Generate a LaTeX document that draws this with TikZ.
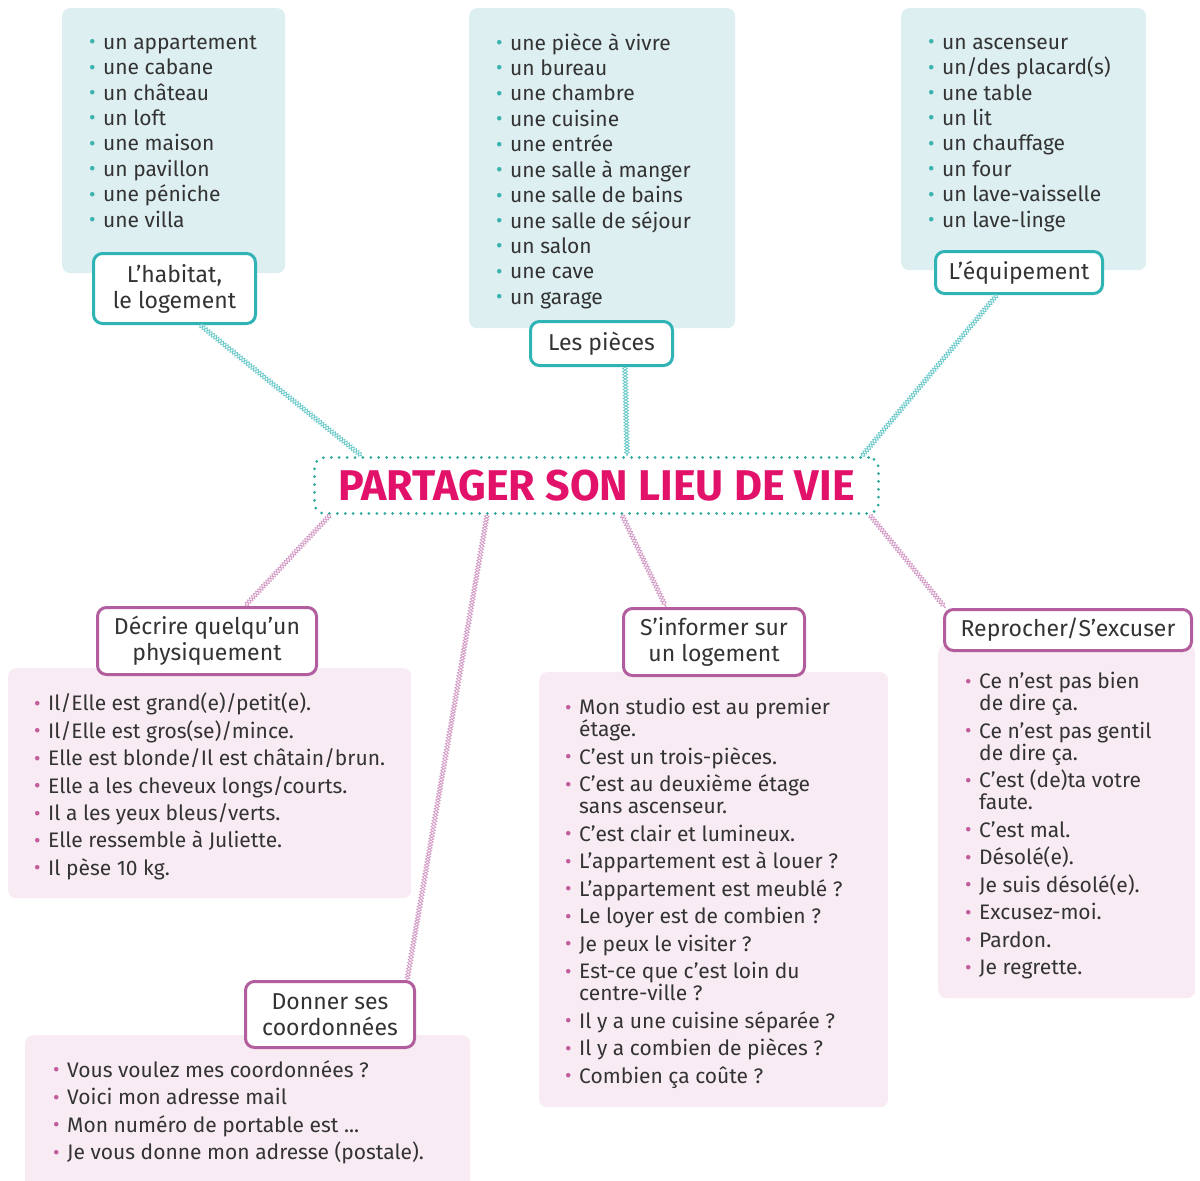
\documentclass[tikz,border=0pt]{standalone}
\usepackage{fontspec}
\setmainfont{Fira Sans}
\usetikzlibrary{calc,decorations.pathmorphing}
\definecolor{tealfill}{HTML}{DDEFF1}
\definecolor{tealline}{HTML}{2FB3B5}
\definecolor{tealbul}{HTML}{3BB3AE}
\definecolor{tealchaincol}{HTML}{6CCACA}
\definecolor{tealdot}{HTML}{2AA89A}
\definecolor{pinkfill}{HTML}{F8EBF4}
\definecolor{purpleline}{HTML}{B25D9E}
\definecolor{pinkbul}{HTML}{C35C9C}
\definecolor{pinkchaincol}{HTML}{D49BC6}
\definecolor{titlecol}{HTML}{E2126B}
\definecolor{textcol}{HTML}{333333}
\newcommand{\tbul}{\rule{0pt}{16pt}\makebox[14pt][l]{\textcolor{tealbul}{\raisebox{0.5pt}{\scalebox{0.95}{\textbullet}}}}}
\newcommand{\pbul}{\rule{0pt}{16pt}\makebox[14pt][l]{\textcolor{pinkbul}{\raisebox{0.5pt}{\scalebox{0.95}{\textbullet}}}}}
\newcommand{\wrapind}{\hspace*{14pt}}
\begin{document}
\begin{tikzpicture}[x=1pt,y=-1pt,
  tbox/.style={fill=tealfill, draw=none, rounded corners=8pt, anchor=north west, inner sep=0pt},
  pbox/.style={fill=pinkfill, draw=none, rounded corners=8pt, anchor=north west, inner sep=0pt},
  tlab/.style={draw=tealline, line width=3pt, fill=white, rounded corners=9pt, inner sep=0pt, align=center, text=textcol, font=\fontsize{23}{26}\selectfont},
  plab/.style={tlab, draw=purpleline},
  lst/.style={anchor=north west, inner sep=0pt, align=left, text=textcol},
  ctrbox/.style={draw=tealdot, line width=3pt, dash pattern=on 0pt off 7.9pt, line cap=round, rounded corners=10pt, minimum width=564pt, minimum height=56pt, inner sep=0pt, text=titlecol},
  tchain/.style={draw=none,
    postaction={draw=tealchaincol, line width=0.8pt, decorate, decoration={zigzag, amplitude=2.4pt, segment length=6pt}},
    postaction={draw=tealchaincol, line width=0.8pt, decorate, decoration={zigzag, amplitude=2.4pt, segment length=6pt, mirror}}},
  pchain/.style={draw=none,
    postaction={draw=pinkchaincol, line width=0.8pt, decorate, decoration={zigzag, amplitude=2.4pt, segment length=6pt}},
    postaction={draw=pinkchaincol, line width=0.8pt, decorate, decoration={zigzag, amplitude=2.4pt, segment length=6pt, mirror}}}]
\useasboundingbox (0,0) rectangle (1200,1181);
\fill[white] (0,0) rectangle (1200,1181);

% background boxes
\node[tbox, minimum width=223pt, minimum height=265pt] (boxA) at (62,8) {};
\node[tbox, minimum width=266pt, minimum height=320pt] (boxB) at (469,8) {};
\node[tbox, minimum width=245pt, minimum height=262pt] (boxC) at (901,8) {};
\node[pbox, minimum width=403pt, minimum height=230pt] (boxD) at (8,668) {};
\node[pbox, minimum width=349pt, minimum height=435pt] (boxS) at (539,672) {};
\node[pbox, minimum width=257pt, minimum height=353pt] (boxR) at (938,645) {};
\node[pbox, minimum width=445pt, minimum height=160pt] (boxG) at (25,1035) {};

% lists
\node[lst, font=\fontsize{21}{25.43}\selectfont] (lstA) at (89,33) {%
\tbul un appartement\\
\tbul une cabane\\
\tbul un château\\
\tbul un loft\\
\tbul une maison\\
\tbul un pavillon\\
\tbul une péniche\\
\tbul une villa};
\node[lst, font=\fontsize{21}{25.43}\selectfont] (lstB) at (496,33) {%
\tbul une pièce à vivre\\
\tbul un bureau\\
\tbul une chambre\\
\tbul une cuisine\\
\tbul une entrée\\
\tbul une salle à manger\\
\tbul une salle de bains\\
\tbul une salle de séjour\\
\tbul un salon\\
\tbul une cave\\
\tbul un garage};
\node[lst, font=\fontsize{21}{25.43}\selectfont] (lstC) at (928,33) {%
\tbul un ascenseur\\
\tbul un/des placard(s)\\
\tbul une table\\
\tbul un lit\\
\tbul un chauffage\\
\tbul un four\\
\tbul un lave-vaisselle\\
\tbul un lave-linge};
\node[lst, font=\fontsize{21}{27.4}\selectfont] (lstD) at (34,693) {%
\pbul Il/Elle est grand(e)/petit(e).\\
\pbul Il/Elle est gros(se)/mince.\\
\pbul Elle est blonde/Il est châtain/brun.\\
\pbul Elle a les cheveux longs/courts.\\
\pbul Il a les yeux bleus/verts.\\
\pbul Elle ressemble à Juliette.\\
\pbul Il pèse 10 kg.};
\node[lst, font=\fontsize{21}{27.5}\selectfont] (lstS) at (565,698) {%
\pbul Mon studio est au premier\\[-5.5pt]
\wrapind étage.\\
\pbul C’est un trois-pièces.\\
\pbul C’est au deuxième étage\\[-5.5pt]
\wrapind sans ascenseur.\\
\pbul C’est clair et lumineux.\\
\pbul L’appartement est à louer ?\\
\pbul L’appartement est meublé ?\\
\pbul Le loyer est de combien ?\\
\pbul Je peux le visiter ?\\
\pbul Est-ce que c’est loin du\\[-5.5pt]
\wrapind centre-ville ?\\
\pbul Il y a une cuisine séparée ?\\
\pbul Il y a combien de pièces ?\\
\pbul Combien ça coûte ?};
\node[lst, font=\fontsize{21}{27.5}\selectfont] (lstR) at (965,672) {%
\pbul Ce n’est pas bien\\[-5.5pt]
\wrapind de dire ça.\\
\pbul Ce n’est pas gentil\\[-5.5pt]
\wrapind de dire ça.\\
\pbul C’est (de)ta votre\\[-5.5pt]
\wrapind faute.\\
\pbul C’est mal.\\
\pbul Désolé(e).\\
\pbul Je suis désolé(e).\\
\pbul Excusez-moi.\\
\pbul Pardon.\\
\pbul Je regrette.};
\node[lst, font=\fontsize{21}{27.6}\selectfont] (lstG) at (53,1060) {%
\pbul Vous voulez mes coordonnées ?\\
\pbul Voici mon adresse mail\\
\pbul Mon numéro de portable est ...\\
\pbul Je vous donne mon adresse (postale).};

% labels
\node[tlab, minimum width=162pt, minimum height=70pt] (labA) at (174.5,288.5) {L’habitat,\\le logement};
\node[tlab, minimum width=142pt, minimum height=44pt] (labB) at (601.5,343.5) {Les pièces};
\node[tlab, minimum width=167pt, minimum height=42pt] (labC) at (1019,272.5) {L’équipement};
\node[plab, minimum width=219pt, minimum height=67pt] (labD) at (207,641) {Décrire quelqu’un\\physiquement};
\node[plab, minimum width=181pt, minimum height=67pt] (labS) at (714,642) {S’informer sur\\un logement};
\node[plab, minimum width=247pt, minimum height=41pt] (labR) at (1068,630) {Reprocher/S’excuser};
\node[plab, minimum width=169pt, minimum height=66pt] (labG) at (330,1014.5) {Donner ses\\coordonnées};

% centre
\node[ctrbox] (ctr) at (596.5,485.5) {\fontsize{43}{43}\selectfont\bfseries PARTAGER SON LIEU DE VIE};

% connectors
\draw[tchain] ($(labA.south west)!0.655!(labA.south east)$) -- ($(ctr.north west)!0.086!(ctr.north east)$);
\draw[tchain] ($(labB.south west)!0.662!(labB.south east)$) -- ($(ctr.north west)!0.554!(ctr.north east)$);
\draw[tchain] ($(labC.south west)!0.37!(labC.south east)$) -- ($(ctr.north west)!0.968!(ctr.north east)$);
\draw[pchain] ($(ctr.south west)!0.03!(ctr.south east)$) -- ($(labD.north west)!0.671!(labD.north east)$);
\draw[pchain] ($(ctr.south west)!0.307!(ctr.south east)$) -- ($(labG.north west)!0.948!(labG.north east)$);
\draw[pchain] ($(ctr.south west)!0.545!(ctr.south east)$) -- ($(labS.north west)!0.239!(labS.north east)$);
\draw[pchain] ($(ctr.south west)!0.982!(ctr.south east)$) -- ($(labR.north west)!0.01!(labR.north east)$);
\end{tikzpicture}
\end{document}
